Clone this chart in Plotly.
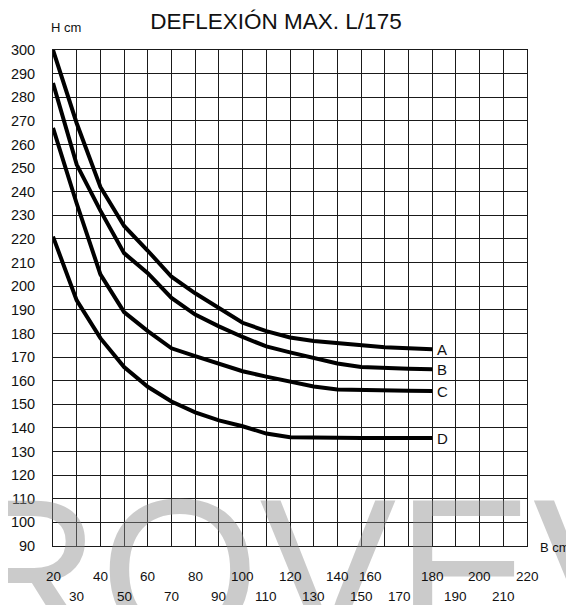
import plotly.graph_objects as go

# ---- data ----
x_vals = [20, 30, 40, 50, 60, 70, 80, 90, 100, 110, 120, 130, 140, 150, 160, 170, 180]
curve_A = [300, 269, 242, 225.5, 215, 204, 197, 190.5, 184.5, 181, 178.3, 176.8, 175.8, 174.8, 174.2, 173.7, 173.3]
curve_B = [286, 251.5, 232, 214, 205.5, 195, 188, 183, 178.5, 174.5, 172, 169.5, 167.3, 165.8, 165.3, 165, 164.8]
curve_C = [267, 235, 205, 189, 181, 173.7, 170.4, 167, 164, 161.7, 159.5, 157.5, 156.3, 156, 155.8, 155.7, 155.6]
curve_D = [221, 194, 178, 165.8, 157.4, 151.2, 146.6, 143.2, 140.7, 137.6, 136, 135.8, 135.7, 135.7, 135.7, 135.7, 135.7]
curve_names = ["A", "B", "C", "D"]

x_labels_row1 = [20, 40, 60, 80, 100, 120, 140, 160, 180, 200, 220]
x_labels_row2 = [30, 50, 70, 90, 110, 130, 150, 170, 190, 210]
y_ticks = list(range(90, 301, 10))

title_text = "DEFLEXIÓN MAX. L/175"
y_unit = "H cm"
x_unit = "B cm"
watermark = "ROVEV"

# ---- layout constants (pixels, figure coords; page adds 8px body margin) ----
OFF = 8
W, H = 574 - OFF, 605 - OFF
L, R, T, B = 53 - OFF, 527 - OFF, 50 - OFF, 546 - OFF
PW, PH = R - L, B - T
FONT = "Liberation Sans, Arial, sans-serif"


def px_x(p):
    # p given in page pixels
    return (p - OFF - L) / PW


def px_y(p):
    return (B - (p - OFF)) / PH


label_shift = {160: -14, 170: -9}

fig = go.Figure()

for name, ys in zip(curve_names, [curve_A, curve_B, curve_C, curve_D]):
    fig.add_trace(go.Scatter(x=x_vals, y=ys, mode="lines", name=name,
                             line=dict(color="black", width=4),
                             showlegend=False, hoverinfo="skip"))

annotations = []
# watermark (faint)
annotations.append(dict(text=watermark, xref="paper", yref="paper",
                        x=px_x(-50), y=px_y(453), xanchor="left", yanchor="top",
                        showarrow=False,
                        font=dict(family=FONT, size=205, color="rgba(140,140,140,0.45)")))

for name, ys in zip(curve_names, [curve_A, curve_B, curve_C, curve_D]):
    annotations.append(dict(text=name, x=x_vals[-1], y=ys[-1], xref="x", yref="y",
                            xanchor="left", yanchor="middle", xshift=3,
                            showarrow=False,
                            font=dict(family=FONT, size=15, color="#111")))

for v in x_labels_row1:
    annotations.append(dict(text=str(v), x=v, y=px_y(576), xref="x", yref="paper",
                            xanchor="center", yanchor="middle",
                            xshift=label_shift.get(v, 0), showarrow=False,
                            font=dict(family=FONT, size=13.5, color="#111")))
for v in x_labels_row2:
    annotations.append(dict(text=str(v), x=v, y=px_y(596), xref="x", yref="paper",
                            xanchor="center", yanchor="middle",
                            xshift=label_shift.get(v, 0), showarrow=False,
                            font=dict(family=FONT, size=13.5, color="#111")))

annotations.append(dict(text=y_unit, xref="paper", yref="paper",
                        x=px_x(65.5), y=px_y(28), xanchor="center", yanchor="middle",
                        showarrow=False, font=dict(family=FONT, size=13, color="#111")))
annotations.append(dict(text=x_unit, xref="paper", yref="paper",
                        x=px_x(555), y=px_y(547), xanchor="center", yanchor="middle",
                        showarrow=False, font=dict(family=FONT, size=13, color="#111")))

fig.update_layout(
    width=W, height=H,
    margin=dict(l=L, r=W - R, t=T, b=H - B, autoexpand=False),
    paper_bgcolor="white", plot_bgcolor="white",
    title=dict(text=title_text, x=(276 - OFF) / W, xanchor="center",
               y=1 - (21.5 - OFF) / H, yanchor="middle",
               font=dict(family=FONT, size=22.5, color="#111")),
    xaxis=dict(range=[20, 220], dtick=10, tick0=20, showticklabels=False,
               showgrid=True, gridcolor="#1a1a1a", gridwidth=1,
               showline=True, linecolor="#1a1a1a", linewidth=1, mirror=True,
               zeroline=False, ticks="", automargin=False),
    yaxis=dict(range=[90, 300], tickvals=y_ticks, ticktext=[str(v) for v in y_ticks],
               showgrid=True, gridcolor="#1a1a1a", gridwidth=1,
               showline=True, linecolor="#1a1a1a", linewidth=1, mirror=True,
               zeroline=False, ticks="", ticklabelstandoff=14, automargin=False,
               tickfont=dict(family=FONT, size=14.5, color="#111")),
    annotations=annotations,
)

fig.write_html("out.html")
